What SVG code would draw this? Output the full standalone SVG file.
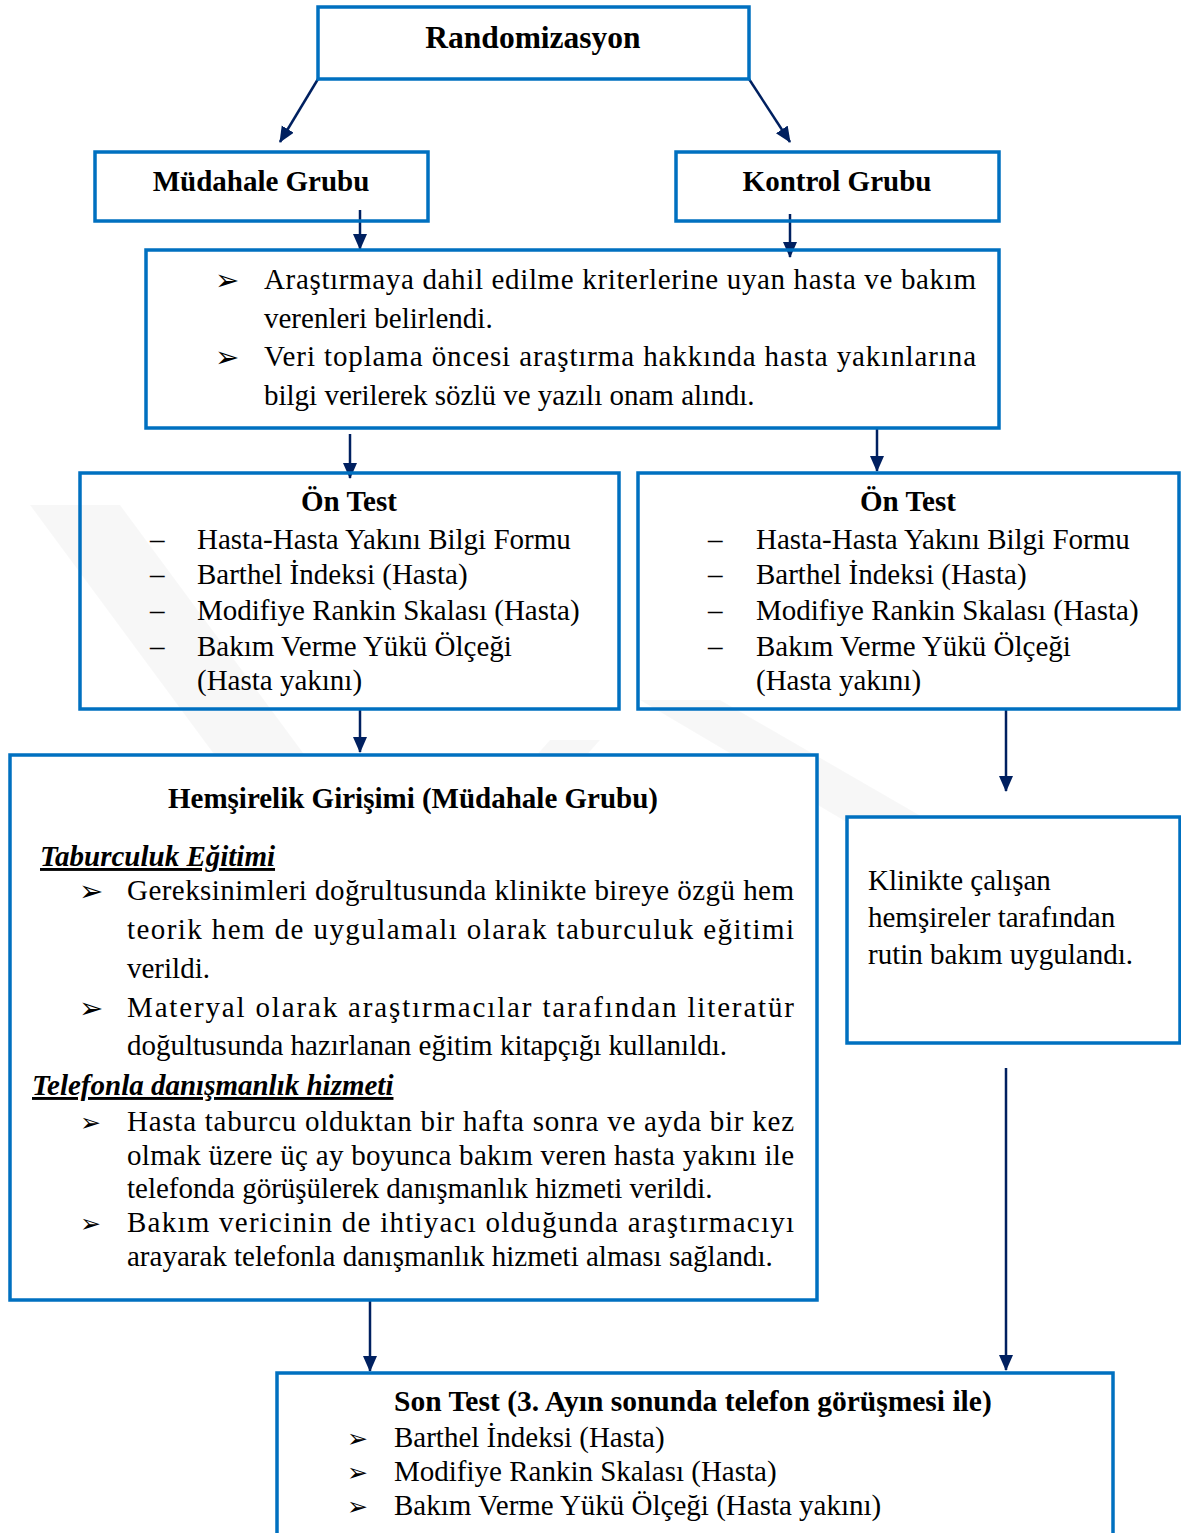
<svg xmlns="http://www.w3.org/2000/svg" width="1181" height="1533" viewBox="0 0 1181 1533">
<style>
.box{fill:none;stroke:#0070C0;stroke-width:3.5}
.bg{fill:#ffffff}
.t{font-family:"Liberation Serif","Times New Roman",serif;font-size:29px;fill:#000}
.b{font-weight:bold}
.bi{font-weight:bold;font-style:italic;text-decoration:underline}
.bul{font-family:"DejaVu Sans",sans-serif;font-size:29px;fill:#000}
.bs{font-size:25px}
.con{stroke:#002060;stroke-width:2.5;fill:none}
.wm{fill:#000;opacity:0.03}
</style>
<defs>
<marker id="ah" markerUnits="userSpaceOnUse" markerWidth="16" markerHeight="18" refX="15" refY="7" orient="auto">
<path d="M0,0 L16,7 L0,14 Z" fill="#002060"/>
</marker>
</defs>
<rect x="0" y="0" width="1181" height="1533" fill="#fff"/>
<g id="watermark">
<polygon class="wm" points="30,505 120,505 360,830 270,830"/>
<polygon class="wm" points="640,700 720,700 945,830 860,830"/>
<polygon class="wm" points="390,830 440,830 500,770 450,770"/>
<polygon class="wm" points="470,830 520,830 600,740 550,740"/>
</g>
<g id="connectors">
<line class="con" x1="318" y1="79" x2="280" y2="142" marker-end="url(#ah)"/>
<line class="con" x1="749" y1="79" x2="790" y2="142" marker-end="url(#ah)"/>
<line class="con" x1="360" y1="210" x2="360" y2="249" marker-end="url(#ah)"/>
<line class="con" x1="790" y1="214" x2="790" y2="257" marker-end="url(#ah)"/>
<line class="con" x1="350" y1="434" x2="350" y2="478" marker-end="url(#ah)"/>
<line class="con" x1="877" y1="428" x2="877" y2="471" marker-end="url(#ah)"/>
<line class="con" x1="360" y1="709" x2="360" y2="752" marker-end="url(#ah)"/>
<line class="con" x1="1006" y1="709" x2="1006" y2="791" marker-end="url(#ah)"/>
<line class="con" x1="1006" y1="1068" x2="1006" y2="1370" marker-end="url(#ah)"/>
<line class="con" x1="370" y1="1300" x2="370" y2="1371" marker-end="url(#ah)"/>
</g>
<g id="randomizasyon">
<rect class="box" x="318" y="7" width="431" height="72"/>
<text class="t b" x="533" y="48" text-anchor="middle" style="font-size:31.5px">Randomizasyon</text>
</g>
<g id="mudahale">
<rect class="box" x="95" y="152" width="333" height="69"/>
<text class="t b" x="261" y="191" text-anchor="middle">Müdahale Grubu</text>
</g>
<g id="kontrol">
<rect class="box" x="676" y="152" width="323" height="69"/>
<text class="t b" x="837" y="191" text-anchor="middle">Kontrol Grubu</text>
</g>
<g id="kriter">
<rect class="box" x="146" y="250" width="853" height="178"/>
<text class="bul" x="215" y="290">➢</text>
<text class="t" x="264" y="289" textLength="712" lengthAdjust="spacing">Araştırmaya dahil edilme kriterlerine uyan hasta ve bakım</text>
<text class="t" x="264" y="328">verenleri belirlendi.</text>
<text class="bul" x="215" y="367">➢</text>
<text class="t" x="264" y="366" textLength="712" lengthAdjust="spacing">Veri toplama öncesi araştırma hakkında hasta yakınlarına</text>
<text class="t" x="264" y="405">bilgi verilerek sözlü ve yazılı onam alındı.</text>
</g>
<g id="ontest-left">
<rect class="box" x="80" y="473" width="539" height="236"/>
<text class="t b" x="349" y="511" text-anchor="middle">Ön Test</text>
<text class="t" x="150" y="549">–</text><text class="t" x="197" y="549">Hasta-Hasta Yakını Bilgi Formu</text>
<text class="t" x="150" y="584">–</text><text class="t" x="197" y="584">Barthel İndeksi (Hasta)</text>
<text class="t" x="150" y="620">–</text><text class="t" x="197" y="620">Modifiye Rankin Skalası (Hasta)</text>
<text class="t" x="150" y="656">–</text><text class="t" x="197" y="656">Bakım Verme Yükü Ölçeği</text>
<text class="t" x="197" y="690">(Hasta yakını)</text>
</g>
<g id="ontest-right">
<rect class="box" x="638" y="473" width="541" height="236"/>
<text class="t b" x="908" y="511" text-anchor="middle">Ön Test</text>
<text class="t" x="708" y="549">–</text><text class="t" x="756" y="549">Hasta-Hasta Yakını Bilgi Formu</text>
<text class="t" x="708" y="584">–</text><text class="t" x="756" y="584">Barthel İndeksi (Hasta)</text>
<text class="t" x="708" y="620">–</text><text class="t" x="756" y="620">Modifiye Rankin Skalası (Hasta)</text>
<text class="t" x="708" y="656">–</text><text class="t" x="756" y="656">Bakım Verme Yükü Ölçeği</text>
<text class="t" x="756" y="690">(Hasta yakını)</text>
</g>
<g id="hemsirelik">
<rect class="bg" x="10" y="755" width="807" height="545"/>
<rect class="box" x="10" y="755" width="807" height="545"/>
<text class="t b" x="413" y="808" text-anchor="middle">Hemşirelik Girişimi (Müdahale Grubu)</text>
<text class="t bi" x="40" y="866">Taburculuk Eğitimi</text>
<text class="bul" x="79" y="901">➢</text>
<text class="t" x="127" y="900" textLength="667" lengthAdjust="spacing">Gereksinimleri doğrultusunda klinikte bireye özgü hem</text>
<text class="t" x="127" y="939" textLength="667" lengthAdjust="spacing">teorik hem de uygulamalı olarak taburculuk eğitimi</text>
<text class="t" x="127" y="978">verildi.</text>
<text class="bul" x="79" y="1018">➢</text>
<text class="t" x="127" y="1017" textLength="667" lengthAdjust="spacing">Materyal olarak araştırmacılar tarafından literatür</text>
<text class="t" x="127" y="1055">doğultusunda hazırlanan eğitim kitapçığı kullanıldı.</text>
<text class="t bi" x="32" y="1095">Telefonla danışmanlık hizmeti</text>
<text class="bul bs" x="80" y="1131">➢</text>
<text class="t" x="127" y="1131" textLength="667" lengthAdjust="spacing">Hasta taburcu olduktan bir hafta sonra ve ayda bir kez</text>
<text class="t" x="127" y="1165" textLength="667" lengthAdjust="spacing">olmak üzere üç ay boyunca bakım veren hasta yakını ile</text>
<text class="t" x="127" y="1198">telefonda görüşülerek danışmanlık hizmeti verildi.</text>
<text class="bul bs" x="80" y="1232">➢</text>
<text class="t" x="127" y="1232" textLength="667" lengthAdjust="spacing">Bakım vericinin de ihtiyacı olduğunda araştırmacıyı</text>
<text class="t" x="127" y="1266">arayarak telefonla danışmanlık hizmeti alması sağlandı.</text>
</g>
<g id="kontrol-bakim">
<rect class="bg" x="847" y="817" width="333" height="226"/>
<rect class="box" x="847" y="817" width="333" height="226"/>
<text class="t" x="868" y="890">Klinikte çalışan</text>
<text class="t" x="868" y="927">hemşireler tarafından</text>
<text class="t" x="868" y="964">rutin bakım uygulandı.</text>
</g>
<g id="sontest">
<rect class="box" x="277" y="1373" width="836" height="165"/>
<text class="t b" x="394" y="1411" style="font-size:29.5px">Son Test (3. Ayın sonunda telefon görüşmesi ile)</text>
<text class="bul bs" x="347" y="1447">➢</text><text class="t" x="394" y="1447">Barthel İndeksi (Hasta)</text>
<text class="bul bs" x="347" y="1481">➢</text><text class="t" x="394" y="1481">Modifiye Rankin Skalası (Hasta)</text>
<text class="bul bs" x="347" y="1515">➢</text><text class="t" x="394" y="1515">Bakım Verme Yükü Ölçeği (Hasta yakını)</text>
</g>
</svg>
